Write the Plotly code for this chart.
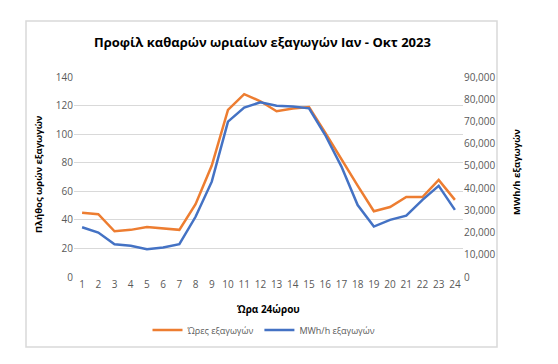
import plotly.graph_objects as go

hours = list(range(1, 25))
hours_exports = [45, 44, 32, 33, 35, 34, 33, 51, 78, 117, 128, 123, 116, 118, 119, 101, 82, 64, 46, 49, 56, 56, 68, 54]
mwh_exports = [22400, 20000, 14700, 14100, 12500, 13300, 14800, 27100, 42900, 69900, 76200, 78600, 77100, 76700, 75900,
               63900, 49700, 32400, 22700, 25700, 27600, 34700, 41000, 30200]

title = "Προφίλ καθαρών ωριαίων εξαγωγών Ιαν - Οκτ 2023"
x_title = "Ώρα 24ώρου"
y1_title = "Πλήθος ωρών εξαγωγών"
y2_title = "MWh/h εξαγωγών"
name1 = "Ώρες εξαγωγών"
name2 = "MWh/h εξαγωγών"

FONT = "Open Sans"
GRAY = "#595959"

fig = go.Figure()
fig.add_trace(go.Scatter(x=hours, y=hours_exports, name=name1, mode="lines",
                         line=dict(color="#ED7D31", width=2.5), yaxis="y"))
fig.add_trace(go.Scatter(x=hours, y=mwh_exports, name=name2, mode="lines",
                         line=dict(color="#4472C4", width=2.5), yaxis="y2"))

# page body has an 8px margin, so the figure is drawn offset by 8px
OFF = 8
W, H = 558 - OFF, 364 - OFF
# plot area in window coordinates: x 74..463, y 77..277
L, R, T, B = 74 - OFF, 463 - OFF, 77 - OFF, 277 - OFF
pw, ph = R - L, B - T

def px_x(x):
    return (x - OFF - L) / pw

def px_y(y):
    return (B - (y - OFF)) / ph

fig.update_layout(
    width=W, height=H,
    margin=dict(l=L, r=W - R, t=T, b=H - B, autoexpand=False),
    paper_bgcolor="white", plot_bgcolor="white",
    font=dict(family=FONT, size=10, color=GRAY),
    showlegend=True,
    legend=dict(orientation="h", xref="container", yref="container",
                x=(264 - OFF) / W, xanchor="center", y=1 - (330 - OFF) / H, yanchor="middle",
                font=dict(size=9, color=GRAY), tracegroupgap=0,
                bgcolor="rgba(0,0,0,0)"),
    xaxis=dict(range=[0.5, 24.5], tickmode="array", tickvals=hours, ticktext=[str(h) for h in hours],
               showgrid=False, zeroline=False, showline=False, ticks="", automargin=False,
               tickfont=dict(size=10, color=GRAY)),
    yaxis=dict(range=[0, 140], dtick=20, showgrid=True, gridcolor="#d9d9d9", gridwidth=1,
               zeroline=False, showline=False, ticks="", automargin=False,
               tickfont=dict(size=10, color=GRAY)),
    yaxis2=dict(range=[0, 90000], dtick=10000, overlaying="y", side="right", showgrid=False,
                zeroline=False, showline=False, ticks="", tickformat=",", automargin=False,
                tickfont=dict(size=10, color=GRAY)),
    shapes=[dict(type="rect", xref="paper", yref="paper",
                 x0=px_x(26), x1=px_x(497), y0=px_y(347), y1=px_y(21),
                 line=dict(color="#d9d9d9", width=1.5), fillcolor="rgba(0,0,0,0)", layer="below")],
    annotations=[
        dict(text="<b>" + title + "</b>", xref="paper", yref="paper", x=px_x(262), y=px_y(42),
             showarrow=False, xanchor="center", yanchor="middle",
             font=dict(family=FONT, size=13, color="#000000")),
        dict(text="<b>" + x_title + "</b>", xref="paper", yref="paper", x=px_x(268), y=px_y(309),
             showarrow=False, xanchor="center", yanchor="middle",
             font=dict(family=FONT, size=10, color="#000000")),
        dict(text="<b>" + y1_title + "</b>", xref="paper", yref="paper", x=px_x(38), y=px_y(174),
             showarrow=False, xanchor="center", yanchor="middle", textangle=-90,
             font=dict(family=FONT, size=9.5, color="#000000")),
        dict(text="<b>" + y2_title + "</b>", xref="paper", yref="paper", x=px_x(516), y=px_y(172),
             showarrow=False, xanchor="center", yanchor="middle", textangle=-90,
             font=dict(family=FONT, size=9.5, color="#000000")),
    ],
)

fig.write_html("out.html")
